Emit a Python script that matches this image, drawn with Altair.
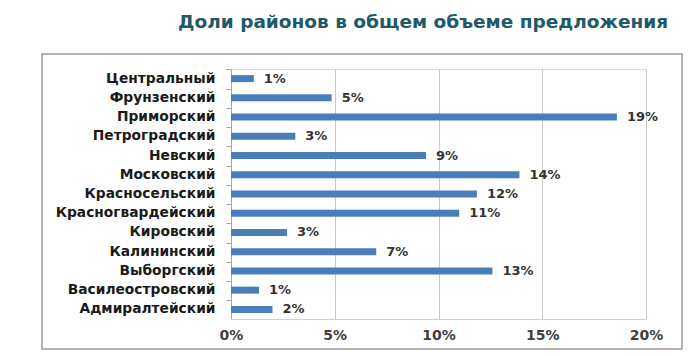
import altair as alt
import pandas as pd

districts = ["Центральный", "Фрунзенский", "Приморский", "Петроградский", "Невский",
             "Московский", "Красносельский", "Красногвардейский", "Кировский",
             "Калининский", "Выборгский", "Василеостровский", "Адмиралтейский"]
shares = [0.011, 0.0485, 0.186, 0.031, 0.094, 0.139, 0.1185, 0.110, 0.027, 0.070, 0.126, 0.0135, 0.020]
x_ticks = [0, 0.05, 0.10, 0.15, 0.20]
title_text = "Доли районов в общем объеме предложения"

df = pd.DataFrame({"district": districts, "share": shares})

FONT = "DejaVu Sans"

y_enc = alt.Y("district:N", sort=districts, title=None,
              axis=alt.Axis(bandPosition=0, tickSize=5, labelPadding=11,
                            labelFont=FONT, labelFontSize=13.8, labelFontWeight="bold",
                            labelColor="#1a1a1a", domainColor="#a6a6a6", tickColor="#a6a6a6",
                            grid=False))
x_enc = alt.X("share:Q", title=None,
              scale=alt.Scale(domain=[0, 0.20], nice=False),
              axis=alt.Axis(values=x_ticks, format=".0%", ticks=False, labelPadding=9,
                            labelFlush=False,
                            labelFont=FONT, labelFontSize=14, labelFontWeight="bold",
                            labelColor="#404040", domainColor="#d0d0d0",
                            grid=True, gridColor="#c8c8c8"))

bars = alt.Chart(df).mark_bar(size=7, color="#4a7ebb").encode(x=x_enc, y=y_enc)

labels = alt.Chart(df).mark_text(align="left", baseline="middle", dx=10,
                                 font=FONT, fontSize=13, fontWeight="bold",
                                 color="#333333").encode(
    x=alt.X("share:Q"), y=alt.Y("district:N", sort=districts),
    text=alt.Text("share:Q", format=".0%"))

frame = alt.Chart(pd.DataFrame({"a": [0]})).mark_rect(
    fill="transparent", stroke="#9a9a9a", strokeWidth=1.5, clip=False).encode(
    x=alt.value(-189), x2=alt.value(451), y=alt.value(-15), y2=alt.value(280))

chart = alt.layer(frame, bars, labels).properties(
    width=415, height=250,
    autosize=alt.AutoSizeParams(type="none"),
    padding={"left": 231, "top": 69, "right": 54, "bottom": 37},
    title=alt.TitleParams(title_text, anchor="start", frame="group", dx=-53, offset=22,
                          font=FONT, fontSize=18.5, fontWeight="bold", color="#215968"),
).configure_view(stroke=None).configure(background="white")

chart.save("out.html", embed_options={"renderer": "svg", "actions": False})
